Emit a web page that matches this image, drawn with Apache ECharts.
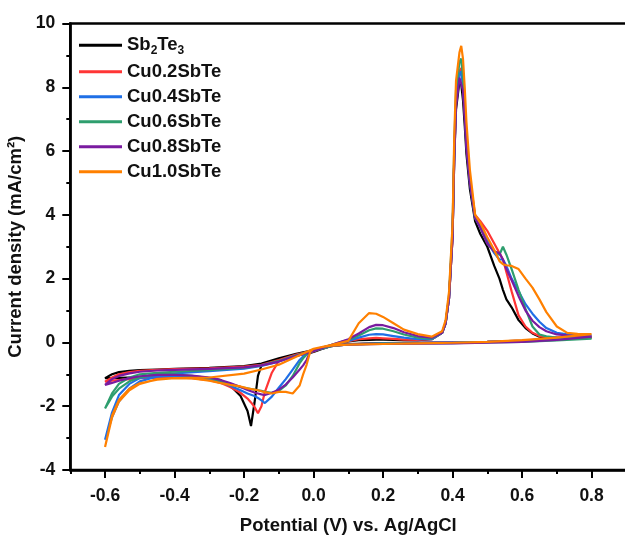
<!DOCTYPE html>
<html><head><meta charset="utf-8">
<script src="https://cdn.jsdelivr.net/npm/echarts@6/dist/echarts.min.js"></script>
<style>html,body{margin:0;padding:0;background:#fff}#c{width:625px;height:538px}</style>
</head><body><div id="c"></div>
<script>
// ---- data ----
const seriesNames = ['Sb2Te3','Cu0.2SbTe','Cu0.4SbTe','Cu0.6SbTe','Cu0.8SbTe','Cu1.0SbTe'];
const seriesColors = ['#000000','#ff3535','#1f6fe6','#2e9e6e','#7a1ba0','#ff8000'];
const xMajorTicks = [-0.6,-0.4,-0.2,0.0,0.2,0.4,0.6,0.8];

// cathodic sweep 0.8 -> -0.6 V
const cathodicE = [0.8,0.7,0.6,0.5,0.4,0.3,0.2,0.1,0.05,0.02,0.0,-0.01,-0.02,-0.03,-0.04,-0.06,-0.08,-0.1,-0.12,-0.14,-0.15,-0.16,-0.17,-0.18,-0.19,-0.21,-0.24,-0.27,-0.3,-0.35,-0.4,-0.45,-0.5,-0.53,-0.56,-0.58,-0.6];
// anodic sweep -0.6 -> 0.8 V
const anodicE = [-0.58,-0.56,-0.53,-0.5,-0.45,-0.4,-0.3,-0.2,-0.15,-0.1,-0.05,0.0,0.05,0.1,0.13,0.16,0.18,0.2,0.23,0.26,0.3,0.34,0.37,0.38,0.39,0.4,0.405,0.41,0.42,0.425,0.43,0.435,0.44,0.45,0.465,0.48,0.5,0.52,0.535,0.545,0.555,0.57,0.59,0.61,0.63,0.65,0.67,0.7,0.73,0.76,0.8];

const sb2te3Cat = [0.15,0.1,0.05,0.02,0.0,-0.01,-0.02,-0.05,-0.12,-0.22,-0.3,-0.33,-0.35,-0.37,-0.39,-0.44,-0.48,-0.53,-0.6,-0.67,-0.72,-1.05,-1.9,-2.62,-2.15,-1.68,-1.35,-1.17,-1.12,-1.1,-1.1,-1.1,-1.1,-1.1,-1.11,-1.12,-1.12];
const sb2te3An = [-1.0,-0.93,-0.89,-0.87,-0.85,-0.83,-0.8,-0.74,-0.66,-0.5,-0.36,-0.24,-0.1,0.03,0.07,0.08,0.09,0.09,0.08,0.07,0.07,0.1,0.3,0.6,1.4,3.3,5.8,7.3,8.2,8.1,7.6,6.8,5.9,4.8,3.8,3.4,3.0,2.4,2.0,1.65,1.35,1.1,0.7,0.45,0.28,0.18,0.14,0.13,0.13,0.14,0.15];

const cu02Cat = [0.18,0.11,0.06,0.02,0.0,-0.01,-0.03,-0.06,-0.12,-0.2,-0.28,-0.31,-0.34,-0.37,-0.4,-0.45,-0.5,-0.58,-0.95,-1.55,-2.0,-2.22,-2.02,-1.88,-1.76,-1.58,-1.4,-1.26,-1.18,-1.12,-1.1,-1.1,-1.12,-1.15,-1.18,-1.2,-1.23];
const cu02An = [-1.1,-1.0,-0.93,-0.89,-0.86,-0.84,-0.81,-0.76,-0.7,-0.55,-0.38,-0.25,-0.1,0.04,0.1,0.13,0.14,0.13,0.11,0.09,0.08,0.1,0.3,0.6,1.4,3.3,5.9,7.6,8.5,8.6,8.1,7.2,6.3,5.1,4.0,3.8,3.5,3.1,2.8,2.6,2.2,1.6,0.85,0.5,0.3,0.2,0.17,0.16,0.17,0.17,0.18];

const cu04Cat = [0.22,0.12,0.06,0.02,0.0,-0.01,-0.03,-0.06,-0.12,-0.2,-0.27,-0.3,-0.35,-0.44,-0.55,-0.85,-1.15,-1.42,-1.7,-1.9,-1.82,-1.74,-1.68,-1.64,-1.6,-1.5,-1.36,-1.24,-1.15,-1.08,-1.05,-1.07,-1.22,-1.45,-1.85,-2.35,-3.05];
const cu04An = [-2.2,-1.65,-1.3,-1.12,-1.02,-0.97,-0.9,-0.82,-0.74,-0.6,-0.42,-0.27,-0.1,0.05,0.15,0.24,0.26,0.25,0.2,0.15,0.1,0.1,0.3,0.6,1.4,3.4,5.9,7.5,8.4,8.5,8.0,7.2,6.2,5.0,3.9,3.65,3.2,2.8,2.6,2.6,2.4,2.0,1.6,1.2,0.9,0.65,0.45,0.3,0.25,0.23,0.22];

const cu06Cat = [0.12,0.06,0.02,0.0,-0.02,-0.03,-0.04,-0.06,-0.12,-0.2,-0.26,-0.3,-0.38,-0.5,-0.65,-1.05,-1.35,-1.52,-1.58,-1.55,-1.52,-1.5,-1.48,-1.46,-1.44,-1.4,-1.3,-1.2,-1.12,-1.05,-1.0,-1.0,-1.1,-1.22,-1.45,-1.7,-2.07];
const cu06An = [-1.6,-1.3,-1.1,-1.0,-0.95,-0.92,-0.87,-0.8,-0.72,-0.58,-0.4,-0.25,-0.08,0.08,0.22,0.38,0.44,0.43,0.35,0.25,0.15,0.12,0.3,0.6,1.5,3.6,6.2,7.9,8.8,8.9,8.3,7.4,6.4,5.1,3.9,3.6,3.1,2.85,2.75,3.0,2.75,2.3,1.65,1.05,0.5,0.25,0.19,0.15,0.13,0.12,0.12];

const cu08Cat = [0.18,0.08,0.02,-0.01,-0.03,-0.04,-0.05,-0.07,-0.1,-0.17,-0.25,-0.3,-0.55,-0.72,-0.85,-1.1,-1.32,-1.48,-1.58,-1.65,-1.63,-1.6,-1.57,-1.53,-1.49,-1.4,-1.27,-1.17,-1.1,-1.04,-1.02,-1.02,-1.06,-1.12,-1.2,-1.27,-1.33];
const cu08An = [-1.15,-1.05,-0.97,-0.92,-0.88,-0.86,-0.83,-0.78,-0.72,-0.6,-0.42,-0.27,-0.08,0.1,0.28,0.48,0.55,0.54,0.45,0.32,0.2,0.15,0.3,0.6,1.4,3.3,5.8,7.4,8.3,8.3,7.9,7.1,6.1,5.0,3.9,3.6,3.1,2.85,2.8,2.6,2.3,1.95,1.45,1.0,0.68,0.48,0.35,0.25,0.22,0.2,0.18];

const cu10Cat = [0.26,0.15,0.07,0.02,-0.01,-0.03,-0.05,-0.07,-0.1,-0.15,-0.2,-0.3,-0.7,-1.0,-1.35,-1.6,-1.55,-1.55,-1.6,-1.56,-1.53,-1.5,-1.48,-1.46,-1.44,-1.38,-1.33,-1.27,-1.2,-1.13,-1.12,-1.15,-1.3,-1.5,-1.85,-2.35,-3.28];
const cu10An = [-2.3,-1.8,-1.45,-1.28,-1.17,-1.12,-1.1,-0.98,-0.85,-0.7,-0.45,-0.2,-0.08,0.05,0.6,0.92,0.9,0.8,0.6,0.4,0.26,0.18,0.35,0.7,1.6,3.7,6.5,8.2,9.1,9.3,8.9,8.0,6.9,5.4,4.0,3.75,3.3,2.9,2.55,2.45,2.42,2.4,2.3,2.0,1.72,1.35,0.95,0.5,0.3,0.27,0.26];

const cathodicCurrents = [sb2te3Cat, cu02Cat, cu04Cat, cu06Cat, cu08Cat, cu10Cat];
const anodicCurrents = [sb2te3An, cu02An, cu04An, cu06An, cu08An, cu10An];

// ---- chart ----
const FONT = "'Liberation Sans', Arial, Helvetica, sans-serif";
const potential = cathodicE.concat(anodicE);
const series = seriesNames.map((name, k) => {
  const cur = cathodicCurrents[k].concat(anodicCurrents[k]);
  return {
    name: name, type: 'line', symbol: 'none', showSymbol: false, smooth: false, clip: true,
    xAxisIndex: 0,
    data: potential.map((e, i) => [e, cur[i]]),
    lineStyle: { color: seriesColors[k], width: 2.2 },
    itemStyle: { color: seriesColors[k] },
    emphasis: { disabled: true }
  };
});

const chart = echarts.init(document.getElementById('c'), null, { renderer: 'canvas' });
chart.setOption({
  animation: false,
  backgroundColor: '#ffffff',
  grid: { left: 70.3, right: -1.3, top: 23.5, bottom: 68, show: true, borderColor: '#000', borderWidth: 2.5, containLabel: false, outerBoundsMode: 'none' },
  legend: {
    orient: 'vertical', left: 79, top: 35.7, padding: 0, itemGap: 6,
    itemWidth: 43, itemHeight: 3, icon: 'rect',
    data: seriesNames,
    formatter: function (n) { return n === 'Sb2Te3' ? '{a|Sb}{s|2}{a|Te}{s|3}' : n; },
    textStyle: {
      fontFamily: FONT, fontWeight: 'bold', fontSize: 18.5, color: '#111',
      rich: {
        a: { fontFamily: FONT, fontWeight: 'bold', fontSize: 18.5, lineHeight: 22, color: '#111' },
        s: { fontFamily: FONT, fontWeight: 'bold', fontSize: 12, lineHeight: 12, verticalAlign: 'bottom', color: '#111' }
      }
    }
  },
  xAxis: [
    {
      type: 'value', min: -0.7, max: 0.9, interval: 0.1, position: 'bottom',
      axisLine: { show: true, onZero: false, lineStyle: { color: '#000', width: 2.5 } },
      axisTick: { show: true, length: 4, lineStyle: { color: '#000', width: 2 } },
      axisLabel: { show: false },
      splitLine: { show: false },
      name: 'Potential (V) vs. Ag/AgCl', nameLocation: 'middle', nameGap: 46,
      nameTextStyle: { fontFamily: FONT, fontWeight: 'bold', fontSize: 18.5, color: '#111' }
    },
    {
      type: 'value', min: -0.7, max: 0.9, position: 'bottom', offset: 0,
      axisLine: { show: false, onZero: false },
      axisTick: { show: true, length: 8, customValues: xMajorTicks, lineStyle: { color: '#000', width: 2 } },
      axisLabel: { show: true, customValues: xMajorTicks, margin: 17, formatter: v => Number(v).toFixed(1),
        fontFamily: FONT, fontWeight: 'bold', fontSize: 17.5, color: '#111' },
      splitLine: { show: false }
    }
  ],
  yAxis: {
    type: 'value', min: -4, max: 10, interval: 2,
    axisLine: { show: true, onZero: false, lineStyle: { color: '#000', width: 2.5 } },
    axisTick: { show: true, length: 8, lineStyle: { color: '#000', width: 2 } },
    minorTick: { show: true, splitNumber: 2, length: 4, lineStyle: { color: '#000', width: 2 } },
    axisLabel: { margin: 15, fontFamily: FONT, fontWeight: 'bold', fontSize: 17.5, color: '#111' },
    splitLine: { show: false },
    name: 'Current density (mA/cm²)', nameLocation: 'middle', nameGap: 40,
    nameTextStyle: { fontFamily: FONT, fontWeight: 'bold', fontSize: 18.5, color: '#111' }
  },
  series: series
});
</script></body></html>
